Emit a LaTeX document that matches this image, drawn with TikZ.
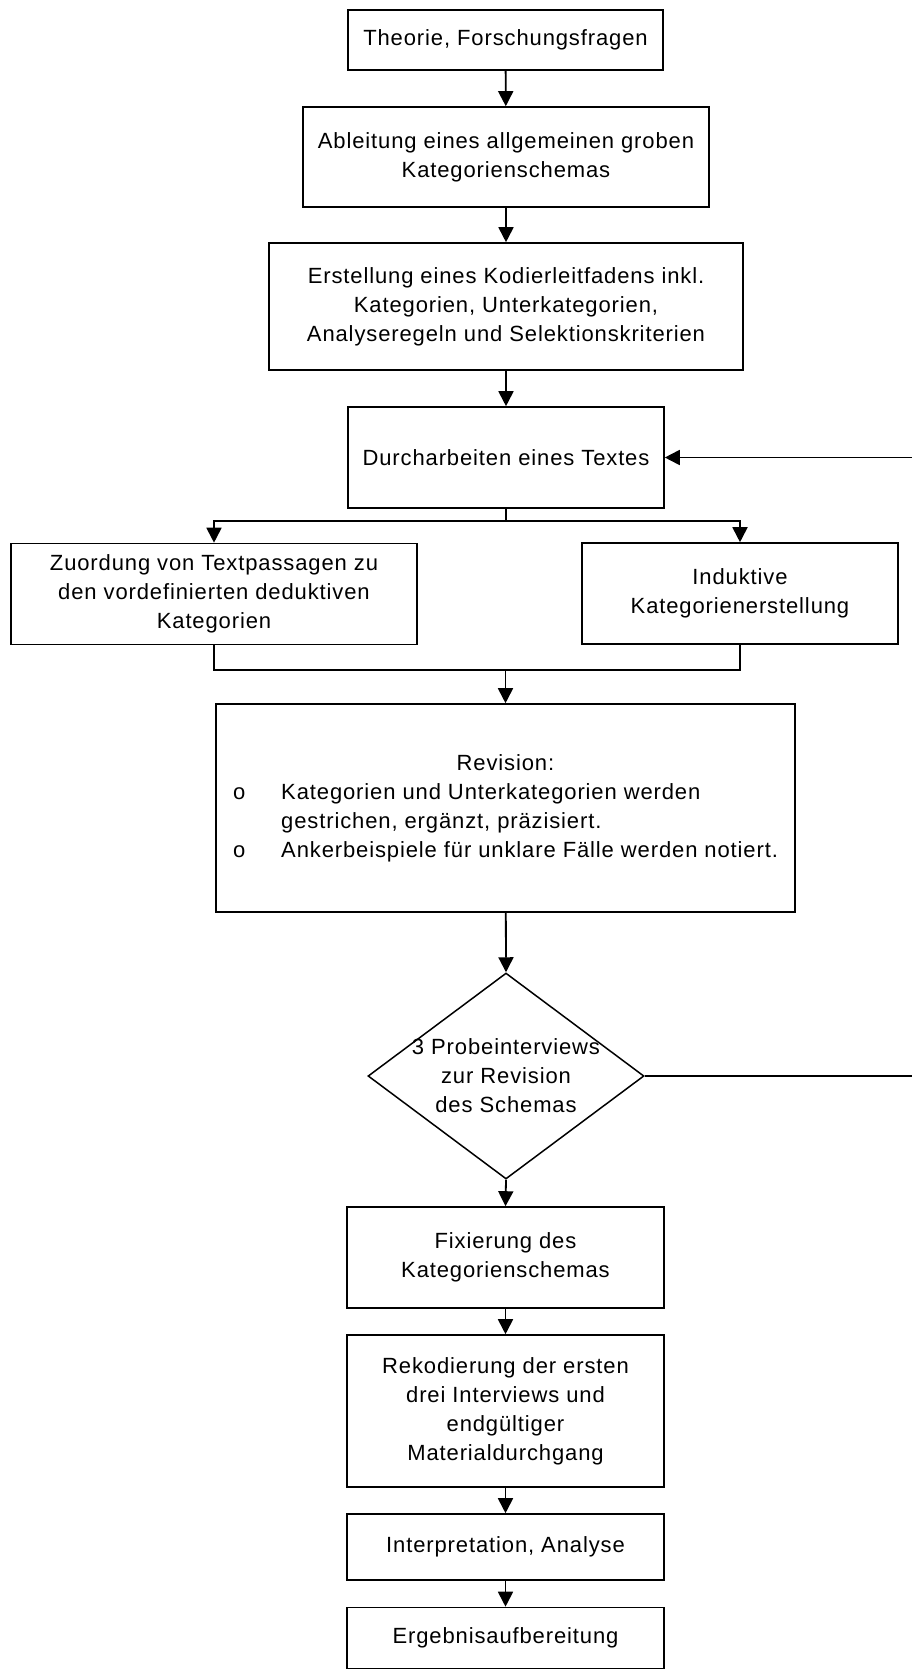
\documentclass[tikz,border=0pt]{standalone}
\usepackage{fontspec}
\setmainfont{Liberation Sans}[LetterSpace=4]
\usetikzlibrary{arrows.meta,shapes.geometric}

\begin{document}
\begin{tikzpicture}[
		x=1pt, y=-1pt,
		font=\fontsize{22}{29}\selectfont,
		stepbox/.style={draw, line width=1.6pt, inner sep=0pt, align=center},
		decision/.style={draw, diamond, line width=1.5pt, inner sep=0pt, minimum width=276, minimum height=206},
		flow/.style={line width=1.8pt},
		arr/.style={flow, -{Triangle[length=15pt,width=15pt]}},
	]
	\path[use as bounding box] (0,0) rectangle (911,1670);
	% main column
	\node[stepbox, minimum width=315, minimum height=60] (theo) at (505.5,40) {Theorie, Forschungsfragen};
	\node[stepbox, minimum width=406, minimum height=100] (ableit) at (506,157) {Ableitung eines allgemeinen groben\\Kategorienschemas};
	\node[stepbox, minimum width=474, minimum height=127] (erst) at (506,306.5) {Erstellung eines Kodierleitfadens inkl.\\Kategorien, Unterkategorien,\\Analyseregeln und Selektionskriterien};
	\node[stepbox, minimum width=316, minimum height=101] (durch) at (506,457.5) {Durcharbeiten eines Textes};
	% two branches
	\node[stepbox, minimum width=406, minimum height=101] (zuord) at (214,594) {Zuordung von Textpassagen zu\\den vordefinierten deduktiven\\Kategorien};
	\node[stepbox, minimum width=316, minimum height=101] (induk) at (740,593.5) {Induktive\\Kategorienerstellung};
	\node[stepbox, minimum width=579, minimum height=208] (rev) at (505.5,808) {\begin{tabular}{@{}l@{\hspace{36pt}}l@{}}
			\multicolumn{2}{c}{Revision:}\\
			o & Kategorien und Unterkategorien werden\\
			  & gestrichen, ergänzt, präzisiert.\\
			o & Ankerbeispiele für unklare Fälle werden notiert.
		\end{tabular}};
	\node[decision] (dec) at (506,1076) {};
	\node[align=center, inner sep=0pt] (dectext) at (dec.center) {3 Probeinterviews\\zur Revision\\des Schemas};
	\node[stepbox, minimum width=317, minimum height=101] (fix) at (505.5,1257.5) {Fixierung des\\Kategorienschemas};
	\node[stepbox, minimum width=317, minimum height=152] (rekod) at (505.5,1411) {Rekodierung der ersten\\drei Interviews und\\endgültiger\\Materialdurchgang};
	\node[stepbox, minimum width=317, minimum height=66] (interp) at (505.5,1547) {Interpretation, Analyse};
	\node[stepbox, minimum width=317, minimum height=61] (ergeb) at (505.5,1638) {Ergebnisaufbereitung};

	\draw[arr] (theo) -- (ableit);
	\draw[arr] (ableit) -- (erst);
	\draw[arr] (erst) -- (durch);
	% split and merge
	\coordinate (splity) at (0,521);
	\coordinate (mergey) at (0,670);
	\coordinate (split) at (durch.south |- splity);
	\coordinate (merge) at (rev.north |- mergey);
	\draw[flow] (durch.south) -- (split);
	\draw[arr] (split) -| (zuord.north);
	\draw[arr] (split) -| (induk.north);
	\draw[flow] (zuord.south) -- (zuord.south |- mergey) -- (induk.south |- mergey) -- (induk.south);
	\draw[arr] (merge) -- (rev.north);
	\draw[arr] (rev) -- (dec.north);
	% loop back
	\coordinate (loopx) at (913,0);
	\draw[arr] (dec.east) -- (dec.east -| loopx) -- (durch.east -| loopx) -- (durch.east);
	\draw[arr] (dec.south) -- (fix.north);
	\draw[arr] (fix) -- (rekod);
	\draw[arr] (rekod) -- (interp);
	\draw[arr] (interp) -- (ergeb);
\end{tikzpicture}
\end{document}
